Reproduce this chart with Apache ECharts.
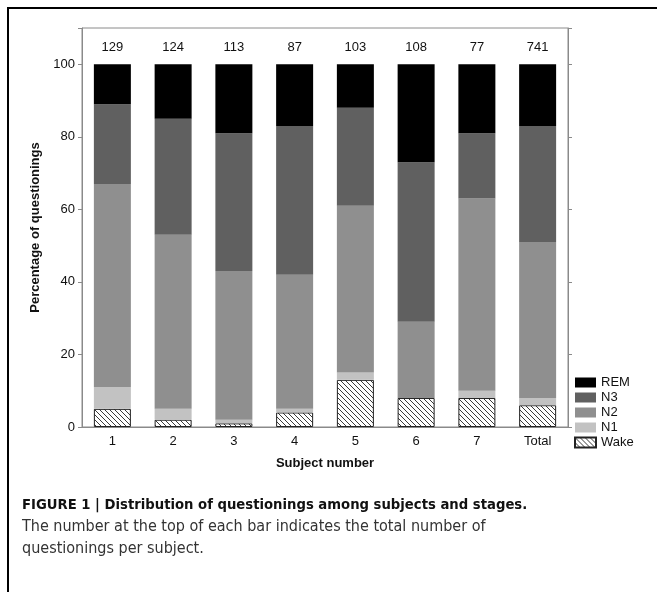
<!DOCTYPE html>
<html>
<head>
<meta charset="utf-8">
<script src="https://cdn.jsdelivr.net/npm/echarts@6/dist/echarts.min.js"></script>
<style>
html,body{margin:0;padding:0;background:#fff;}
#chart{width:657px;height:592px;}
</style>
</head>
<body>
<div id="chart"></div>
<script>
// ---- data (percentages) ----
var categories = ['1', '2', '3', '4', '5', '6', '7', 'Total'];
var totals = [129, 124, 113, 87, 103, 108, 77, 741];
var wake = [5, 2, 1, 4, 13, 8, 8, 6];
var n1   = [6, 3, 1, 1, 2, 0, 2, 2];
var n2   = [56, 48, 41, 37, 46, 21, 53, 43];
var n3   = [22, 32, 38, 41, 27, 44, 18, 32];
var rem  = [11, 15, 19, 17, 12, 27, 19, 17];
var yTicks = [0, 20, 40, 60, 80, 100];

// hatch pattern for Wake
function makeHatch() {
  var c = document.createElement('canvas');
  c.width = 5; c.height = 5;
  var g = c.getContext('2d');
  g.fillStyle = '#ffffff';
  g.fillRect(0, 0, 5, 5);
  g.strokeStyle = '#3a3a3a';
  g.lineWidth = 1;
  g.beginPath();
  g.moveTo(-1, -1); g.lineTo(6, 6);
  g.moveTo(-1, 4); g.lineTo(1, 6);
  g.moveTo(4, -1); g.lineTo(6, 1);
  g.stroke();
  return c;
}
var hatch = {image: makeHatch(), repeat: 'repeat'};

var chart = echarts.init(document.getElementById('chart'));
var font = 'Arial, "Liberation Sans", Helvetica, sans-serif';
var capFont = '"Liberation Sans Narrow", "DejaVu Sans Condensed", Arial, sans-serif';
var barW = 37;

function barSeries(name, data, color, extra) {
  var s = {
    name: name, type: 'bar', stack: 'all', data: data, barWidth: barW,
    itemStyle: {color: color, borderColor: color, borderWidth: 0},
    emphasis: {disabled: true}, animation: false
  };
  if (extra) { for (var k in extra) s[k] = extra[k]; }
  return s;
}

var option = {
  animation: false,
  textStyle: {fontFamily: font},
  grid: {left: 82, right: 89, top: 28, bottom: 165, show: true, borderColor: '#8a8a8a', borderWidth: 1, backgroundColor: 'transparent'},
  legend: {
    orient: 'vertical', left: 569, top: 371,
    icon: 'rect',
    itemWidth: 21, itemHeight: 10, itemGap: 2,
    data: ['REM', 'N3', 'N2', 'N1', 'Wake'],
    textStyle: {fontSize: 13, color: '#111', fontFamily: font},
    selectedMode: false
  },
  xAxis: [{
    type: 'category', data: categories, position: 'bottom',
    axisLine: {show: true, lineStyle: {color: '#8a8a8a', width: 1}},
    axisTick: {show: false},
    axisLabel: {color: '#111', fontSize: 13, margin: 8, fontFamily: font},
    name: 'Subject number', nameLocation: 'middle', nameGap: 30,
    nameTextStyle: {fontWeight: 'bold', fontSize: 13, color: '#111', fontFamily: font}
  }, {
    type: 'category', data: categories, position: 'top',
    axisLine: {show: true, lineStyle: {color: '#8a8a8a', width: 1}},
    axisTick: {show: true, alignWithLabel: true, length: 3, inside: false, lineStyle: {color: '#8a8a8a'}},
    axisLabel: {show: false}
  }],
  yAxis: [{
    type: 'value', min: 0, max: 110, interval: 20,
    axisLine: {show: true, lineStyle: {color: '#8a8a8a', width: 1}},
    axisTick: {show: true, length: 4, lineStyle: {color: '#8a8a8a'}},
    splitLine: {show: false},
    axisLabel: {color: '#111', fontSize: 13, margin: 7, fontFamily: font,
      formatter: function (v) { return yTicks.indexOf(v) >= 0 ? String(v) : ''; }},
    name: 'Percentage of questionings', nameLocation: 'middle', nameGap: 35,
    nameTextStyle: {fontWeight: 'bold', fontSize: 13, color: '#111', fontFamily: font}
  }, {
    type: 'value', min: 0, max: 110, interval: 20, position: 'right',
    axisLine: {show: true, lineStyle: {color: '#8a8a8a', width: 1}},
    axisTick: {show: true, length: 4, lineStyle: {color: '#8a8a8a'}},
    splitLine: {show: false},
    axisLabel: {show: false}
  }],
  series: [
    barSeries('Wake', wake, hatch, {itemStyle: {color: hatch, borderColor: '#222', borderWidth: 1}}),
    barSeries('N1', n1, '#c2c2c2'),
    barSeries('N2', n2, '#8f8f8f'),
    barSeries('N3', n3, '#606060'),
    barSeries('REM', rem, '#000000', {
      label: {
        show: true, position: 'top', distance: 10, color: '#111', fontSize: 13, fontFamily: font,
        formatter: function (p) { return String(totals[p.dataIndex]); }
      }
    })
  ],
  graphic: [
    {type: 'rect', silent: true, shape: {x: 8, y: 8, width: 700, height: 700},
      style: {fill: 'none', stroke: '#000', lineWidth: 2}},
    {type: 'text', left: 22, top: 498, silent: true,
      style: {text: 'FIGURE 1 | Distribution of questionings among subjects and stages.',
        font: 'bold 14.7px ' + capFont, fill: '#111'}},
    {type: 'text', left: 22, top: 519, silent: true,
      style: {text: 'The number at the top of each bar indicates the total number of',
        font: '16px ' + capFont, fill: '#333'}},
    {type: 'text', left: 22, top: 541, silent: true,
      style: {text: 'questionings per subject.',
        font: '16px ' + capFont, fill: '#333'}}
  ]
};
chart.setOption(option);
</script>
</body>
</html>
